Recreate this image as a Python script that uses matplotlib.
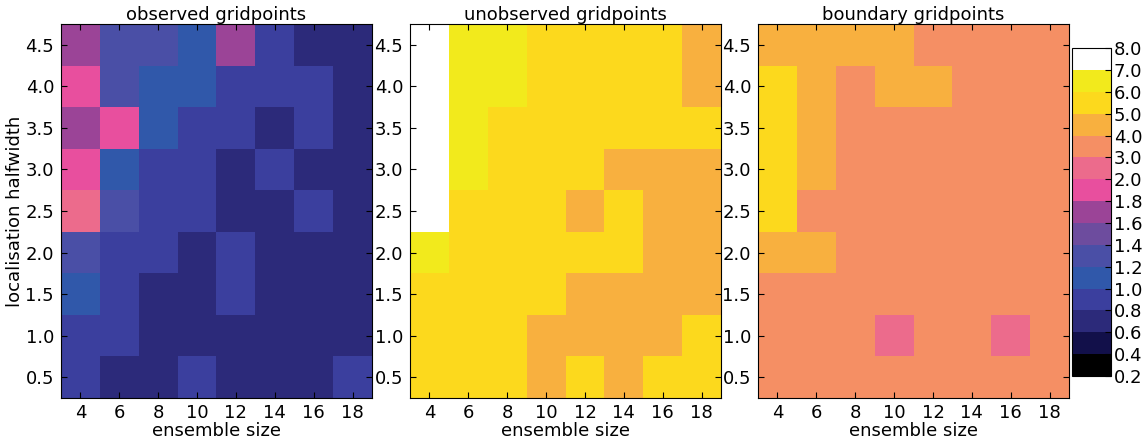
import numpy as np
import matplotlib
matplotlib.use('Agg')
import matplotlib.pyplot as plt
from matplotlib.colors import ListedColormap, BoundaryNorm

plt.rcParams['font.family'] = 'DejaVu Sans'
plt.rcParams['xtick.direction'] = 'in'
plt.rcParams['ytick.direction'] = 'in'
plt.rcParams['xtick.top'] = True
plt.rcParams['ytick.right'] = True
plt.rcParams['xtick.major.size'] = 4
plt.rcParams['ytick.major.size'] = 4

# ensemble sizes and localisation halfwidths
ens_size = [4, 6, 8, 10, 12, 14, 16, 18]
halfwidth = [0.5, 1.0, 1.5, 2.0, 2.5, 3.0, 3.5, 4.0, 4.5]

# rows from halfwidth 0.5 (first) up to 4.5 (last)
observed = [
    [0.9, 0.7, 0.7, 0.9, 0.7, 0.7, 0.7, 0.9],
    [0.9, 0.9, 0.7, 0.7, 0.7, 0.7, 0.7, 0.7],
    [1.1, 0.9, 0.7, 0.7, 0.9, 0.7, 0.7, 0.7],
    [1.3, 0.9, 0.9, 0.7, 0.9, 0.7, 0.7, 0.7],
    [2.5, 1.3, 0.9, 0.9, 0.7, 0.7, 0.9, 0.7],
    [1.9, 1.1, 0.9, 0.9, 0.7, 0.9, 0.7, 0.7],
    [1.7, 1.9, 1.1, 0.9, 0.9, 0.7, 0.9, 0.7],
    [1.9, 1.3, 1.1, 1.1, 0.9, 0.9, 0.9, 0.7],
    [1.7, 1.3, 1.3, 1.1, 1.7, 0.9, 0.7, 0.7],
]
unobserved = [
    [5.5, 5.5, 5.5, 4.5, 5.5, 4.5, 5.5, 5.5],
    [5.5, 5.5, 5.5, 4.5, 4.5, 4.5, 4.5, 5.5],
    [5.5, 5.5, 5.5, 5.5, 4.5, 4.5, 4.5, 4.5],
    [6.5, 5.5, 5.5, 5.5, 5.5, 5.5, 4.5, 4.5],
    [7.5, 5.5, 5.5, 5.5, 4.5, 5.5, 4.5, 4.5],
    [7.5, 6.5, 5.5, 5.5, 5.5, 4.5, 4.5, 4.5],
    [7.5, 6.5, 5.5, 5.5, 5.5, 5.5, 5.5, 5.5],
    [7.5, 6.5, 6.5, 5.5, 5.5, 5.5, 5.5, 4.5],
    [7.5, 6.5, 6.5, 5.5, 5.5, 5.5, 5.5, 4.5],
]
boundary = [
    [3.5, 3.5, 3.5, 3.5, 3.5, 3.5, 3.5, 3.5],
    [3.5, 3.5, 3.5, 2.5, 3.5, 3.5, 2.5, 3.5],
    [3.5, 3.5, 3.5, 3.5, 3.5, 3.5, 3.5, 3.5],
    [4.5, 4.5, 3.5, 3.5, 3.5, 3.5, 3.5, 3.5],
    [5.5, 3.5, 3.5, 3.5, 3.5, 3.5, 3.5, 3.5],
    [5.5, 4.5, 3.5, 3.5, 3.5, 3.5, 3.5, 3.5],
    [5.5, 4.5, 3.5, 3.5, 3.5, 3.5, 3.5, 3.5],
    [5.5, 4.5, 3.5, 4.5, 4.5, 3.5, 3.5, 3.5],
    [4.5, 4.5, 4.5, 4.5, 3.5, 3.5, 3.5, 3.5],
]

titles = ['observed gridpoints', 'unobserved gridpoints', 'boundary gridpoints']

levels = [0.2, 0.4, 0.6, 0.8, 1.0, 1.2, 1.4, 1.6, 1.8, 2.0,
          3.0, 4.0, 5.0, 6.0, 7.0, 8.0]
colors = ['#000000', '#12104a', '#2c2a7a', '#3b3f9e', '#3058aa',
          '#4a4fa6', '#6d4c9e', '#9b4497', '#e84f9e', '#ec6b8c',
          '#f58f64', '#f8b03f', '#fcd91d', '#f2ea1c', '#ffffff']
cmap = ListedColormap(colors)
norm = BoundaryNorm(levels, cmap.N)

# cell edges
x = np.array(ens_size, dtype=float)
xe = np.concatenate([x - 1, [x[-1] + 1]])
y = np.array(halfwidth)
ye = np.concatenate([y - 0.25, [y[-1] + 0.25]])

fs = 13
fig = plt.figure(figsize=(11.47, 4.46), dpi=100)
lefts = [0.0532, 0.3575, 0.6609]
for i, (data, title) in enumerate(zip([observed, unobserved, boundary], titles)):
    ax = fig.add_axes([lefts[i], 0.1076, 0.2711, 0.8386])
    mesh = ax.pcolormesh(xe, ye, np.array(data), cmap=cmap, norm=norm)
    ax.set_xlim(xe[0], xe[-1])
    ax.set_ylim(ye[0], ye[-1])
    ax.set_xticks(ens_size)
    ax.set_yticks(halfwidth)
    ax.tick_params(axis='x', labelsize=fs, pad=4)
    ax.tick_params(axis='y', labelsize=fs, pad=5)
    ax.set_title(title, fontsize=fs, pad=2)
    ax.set_xlabel('ensemble size', fontsize=fs, labelpad=0)
    if i == 0:
        ax.set_ylabel('localisation halfwidth', fontsize=fs, labelpad=1)

cax = fig.add_axes([0.9346, 0.157, 0.034, 0.735])
cb = fig.colorbar(mesh, cax=cax, ticks=levels, spacing='uniform')
cb.ax.set_yticklabels(['%.1f' % v for v in levels])
cb.ax.tick_params(labelsize=fs, direction='in', right=True, length=4, pad=2)

fig.savefig('out.png', dpi=100)
